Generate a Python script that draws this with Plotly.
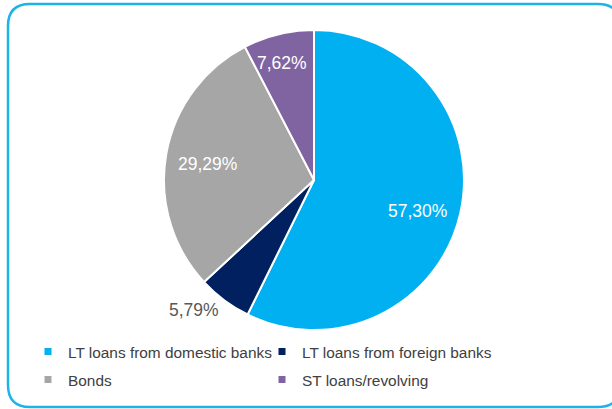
import math
import plotly.graph_objects as go

categories = ["LT loans from domestic banks", "LT loans from foreign banks", "Bonds", "ST loans/revolving"]
values = [57.30, 5.79, 29.29, 7.62]
labels_txt = ["57,30%", "5,79%", "29,29%", "7,62%"]
colors = ["#00B0F0", "#002060", "#A6A6A6", "#8064A2"]

# label placement (fraction of radius, angle nudge in degrees) and colours, kept apart from data
label_rfrac = [0.72, 1.18, 0.72, 0.81]
label_dangle = [3.5, 6.0, -1.5, -1.5]
label_colors = ["white", "#595959", "white", "white"]
legend_rows = ["legend", "legend", "legend2", "legend2"]

W, H = 612, 409
cx, cy, r = 314, 180, 150

fig = go.Figure()
fig.add_trace(go.Pie(
    labels=categories, values=values, textinfo="none",
    sort=False, direction="clockwise", rotation=0,
    marker=dict(colors=colors, line=dict(color="white", width=2)),
    domain=dict(x=[(cx - r) / W, (cx + r) / W], y=[1 - (cy + r) / H, 1 - (cy - r) / H]),
    showlegend=False, hoverinfo="label+percent",
))
for name, col, lg in zip(categories, colors, legend_rows):
    fig.add_trace(go.Scatter(x=[None], y=[None], mode="markers", name=name, legend=lg,
                             marker=dict(symbol="square", size=7, color=col)))

# data labels near slice mid-angles
total = sum(values)
cum = 0.0
for v, txt, rf, da, tc in zip(values, labels_txt, label_rfrac, label_dangle, label_colors):
    mid = (cum + v / 2) / total * 2 * math.pi + math.radians(da)
    cum += v
    lx = cx + rf * r * math.sin(mid)
    ly = cy - rf * r * math.cos(mid)
    fig.add_annotation(x=lx / W, y=1 - ly / H, xref="paper", yref="paper", text=txt,
                       showarrow=False, xanchor="center", yanchor="middle",
                       font=dict(size=17.5, color=tc, family="Liberation Sans, Arial"))

# rounded frame
x0, y0, x1, y1, rr = 8, 4, 620, 407, 22
def px(x): return x / W
def py(y): return 1 - y / H
path = (f"M {px(x0+rr)},{py(y0)} L {px(x1-rr)},{py(y0)} Q {px(x1)},{py(y0)} {px(x1)},{py(y0+rr)} "
        f"L {px(x1)},{py(y1-rr)} Q {px(x1)},{py(y1)} {px(x1-rr)},{py(y1)} "
        f"L {px(x0+rr)},{py(y1)} Q {px(x0)},{py(y1)} {px(x0)},{py(y1-rr)} "
        f"L {px(x0)},{py(y0+rr)} Q {px(x0)},{py(y0)} {px(x0+rr)},{py(y0)} Z")
fig.add_shape(type="path", xref="paper", yref="paper", path=path,
              line=dict(color="#1CB4E8", width=2.5), layer="below")

legend_style = dict(orientation="h", x=28 / W, xanchor="left", yanchor="top",
                    entrywidth=189, entrywidthmode="pixels", traceorder="normal",
                    font=dict(size=15.4, color="#404040", family="Liberation Sans, Arial"),
                    bgcolor="rgba(0,0,0,0)")
fig.update_layout(
    width=W, height=H, margin=dict(l=0, r=0, t=0, b=0),
    paper_bgcolor="white", plot_bgcolor="white",
    xaxis=dict(visible=False), yaxis=dict(visible=False),
    legend=dict(y=1 - 335 / H, **legend_style),
    legend2=dict(y=1 - 363 / H, **legend_style),
)
fig.write_html("out.html")
